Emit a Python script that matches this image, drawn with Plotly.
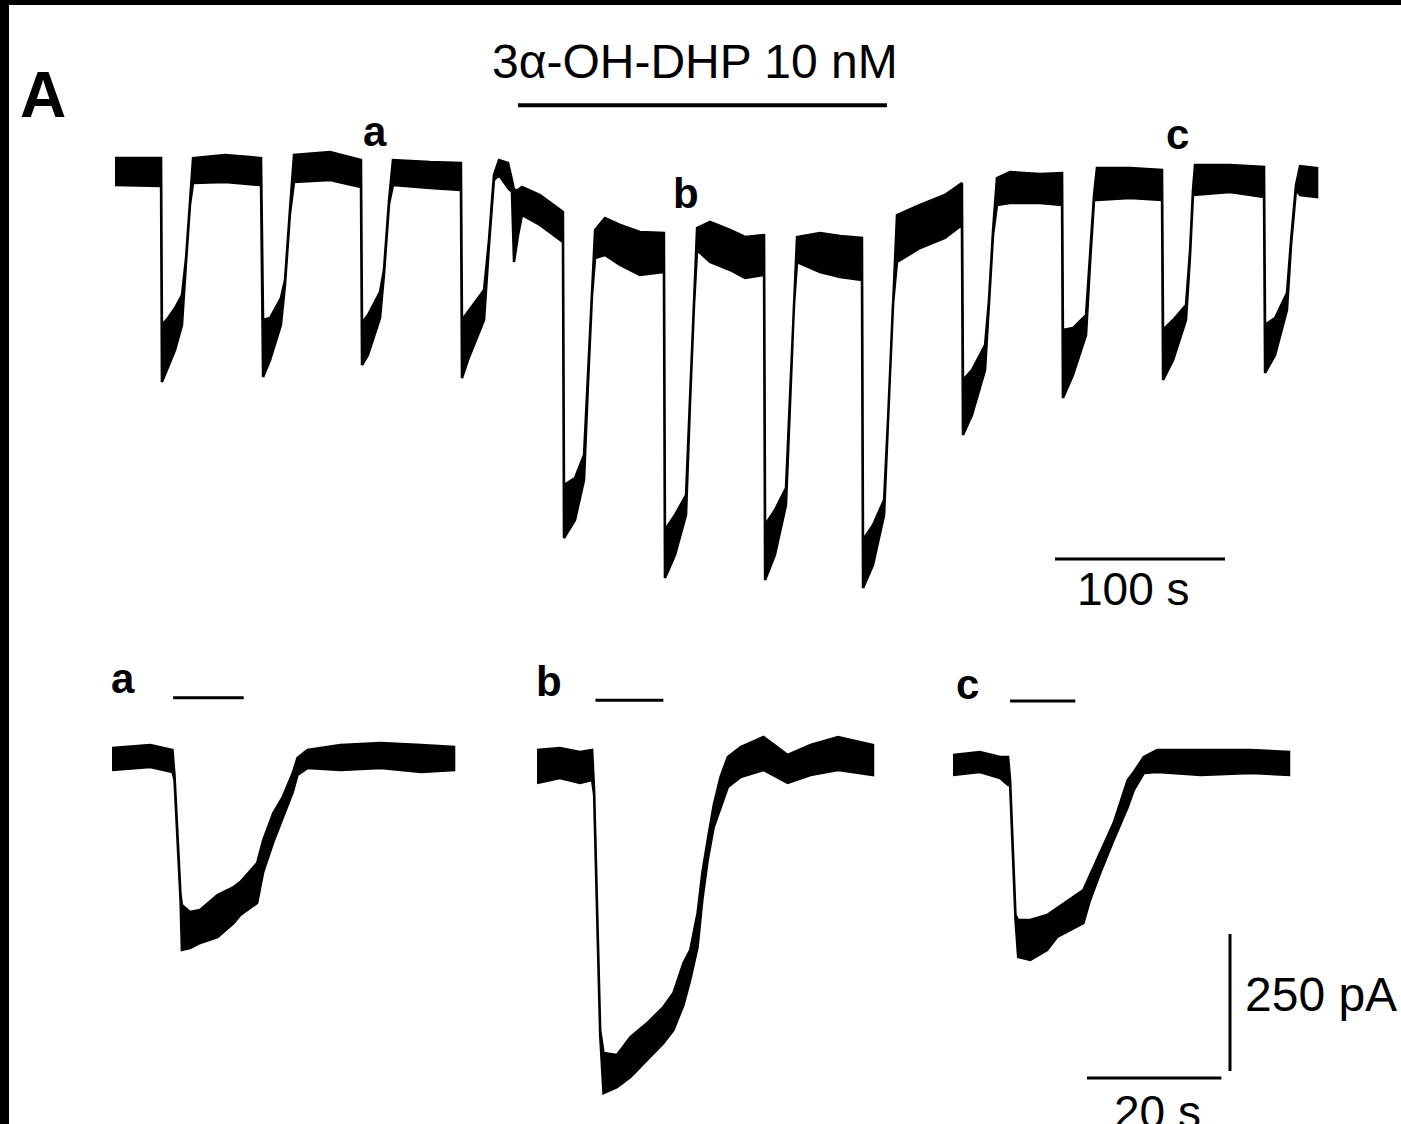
import plotly.graph_objects as go

# ------------------------------------------------------------------
# DATA (time in s, current in pA; upper / lower edge of the noisy trace)
# ------------------------------------------------------------------
# continuous recording, panel A top
TOP_T = [0, 27.1, 27.6, 31.2, 35.3, 39.4, 41.8, 44.1, 45.9, 64.7, 85.3,
         85.9, 87.1, 91.2, 97.6, 100.0, 102.9, 105.3, 126.5, 144.7,
         145.3, 148.8, 155.9, 158.2, 161.2, 163.5, 185.3, 203.5,
         204.1, 207.6, 217.1, 220.0, 222.9, 225.9, 231.2, 233.5, 234.7, 237.1, 239.4, 250.0, 263.5,
         264.1, 270.6, 275.9, 278.2, 280.6, 282.4, 288.2, 297.1, 308.8, 322.9,
         323.5, 329.4, 335.9, 338.2, 340.6, 342.4, 350.0, 361.8, 370.6, 381.8,
         382.4, 388.2, 394.7, 397.1, 399.4, 401.2, 414.7, 426.5, 439.4,
         440.0, 445.9, 452.4, 454.7, 457.6, 460.0, 473.5, 488.2, 498.2,
         498.8, 504.1, 511.8, 514.1, 516.5, 518.8, 526.5, 544.1, 557.1,
         557.6, 563.5, 571.2, 573.5, 575.9, 577.6, 597.1, 615.9,
         616.5, 622.4, 630.0, 632.4, 634.1, 635.3, 655.9, 675.9,
         676.5, 682.4, 689.4, 691.8, 694.7, 697.1, 707.1]
TOP_HI = [25.5, 25.5, -279.2, -266.4, -248.2, -224.5, -156.9, -51.1, 25.5, 31.0, 25.5,
          25.5, -270.1, -266.4, -229.9, -197.1, -69.3, 31.0, 36.5, 21.9,
          -275.0, -261.0, -219.0, -178.8, -51.1, 21.9, 18.2, 16.4,
          -270.1, -255.5, -215.3, -124.1, -5.5, 21.9, 16.4, -14.6, -32.8, -32.8, -27.4, -42.0, -73.0,
          -571.2, -558.4, -516.4, -379.6, -215.3, -105.8, -83.9, -96.7, -109.5, -111.3,
          -653.3, -625.9, -589.4, -416.1, -233.6, -102.2, -91.2, -105.8, -118.6, -115.0,
          -644.2, -616.8, -576.6, -416.1, -233.6, -118.6, -111.3, -116.8, -120.4,
          -671.5, -644.2, -598.5, -452.6, -233.6, -78.5, -60.2, -42.0, -20.1,
          -379.6, -361.3, -315.7, -233.6, -105.8, -10.9, 0.0, -3.6, -1.8,
          -288.3, -284.7, -261.0, -160.6, -42.0, 7.3, 7.3, 3.6,
          -288.3, -270.1, -242.7, -142.3, -32.8, 12.8, 12.8, 9.1,
          -279.2, -266.4, -220.8, -124.1, -23.7, 10.9, 7.3]
TOP_LO = [-23.7, -25.5, -383.2, -357.7, -324.8, -279.2, -164.2, -60.2, -20.1, -18.2, -23.7,
          -23.7, -374.1, -343.1, -279.2, -206.2, -76.6, -18.2, -14.6, -27.4,
          -352.2, -333.9, -266.4, -188.0, -58.4, -23.7, -29.2, -32.8,
          -375.9, -343.1, -270.1, -133.2, -14.6, -5.5, -29.2, -36.5, -164.2, -115.0, -78.5, -96.7, -127.7,
          -667.9, -635.0, -562.0, -388.7, -224.5, -156.9, -151.5, -169.7, -188.0, -182.5,
          -740.9, -698.9, -625.9, -425.2, -242.7, -142.3, -164.2, -178.8, -193.4, -188.0,
          -744.5, -698.9, -607.7, -425.2, -242.7, -164.2, -182.5, -191.6, -197.1,
          -759.1, -717.1, -625.9, -461.7, -242.7, -164.2, -138.7, -120.4, -96.7,
          -479.9, -443.4, -361.3, -242.7, -114.9, -60.2, -56.6, -56.6, -60.2,
          -412.4, -370.4, -297.4, -169.7, -51.1, -51.1, -47.4, -51.1,
          -379.6, -343.1, -270.1, -151.5, -42.0, -42.0, -36.5, -45.6,
          -366.8, -333.9, -251.8, -133.2, -32.8, -42.0, -45.6]

# expanded responses a, b, c
A_T = [0, 5.7, 9.0, 9.3, 10.2, 10.4, 11.6, 13.1, 15.7, 18.1, 19.1, 21.6, 22.5,
       24.0, 25.4, 26.9, 27.6, 29.1, 34.0, 40.0, 46.0, 50.9]
A_HI = [18.2, 23.7, 14.6, -31.0, -250.0, -268.3, -281.1, -277.4, -250.0, -235.4, -226.3,
        -191.6, -149.7, -100.4, -71.2, -27.4, 0.0, 14.6, 23.7, 27.4, 23.7, 20.1]
A_LO = [-21.9, -16.4, -25.5, -40.1, -259.2, -350.4, -346.8, -337.6, -326.7, -301.1, -286.5,
        -264.6, -208.1, -153.3, -109.5, -62.1, -31.0, -18.2, -21.9, -18.2, -25.5, -21.9]

B_T = [0, 3.4, 6.4, 8.2, 8.5, 9.4, 9.9, 11.9, 13.9, 16.4, 18.8, 20.3, 21.8, 22.8,
       23.9, 24.6, 25.4, 26.3, 27.3, 28.4, 30.3, 33.7, 37.3, 40.7, 44.8, 50.0]
B_HI = [27.4, 31.0, 23.7, 27.4, -45.6, -483.6, -525.6, -529.3, -496.4, -470.9, -441.7,
        -416.1, -361.4, -337.6, -270.1, -197.1, -136.9, -73.0, -21.9, 14.6, 32.9, 51.1,
        18.3, 36.5, 51.1, 36.5]
B_LO = [-32.8, -23.7, -32.8, -27.4, -54.8, -492.8, -598.6, -587.7, -569.4, -538.4, -507.4,
        -483.6, -438.0, -392.4, -332.2, -246.4, -173.4, -113.2, -76.7, -40.2, -21.9, -9.1,
        -32.8, -18.3, -9.1, -18.3]

C_T = [0, 4.0, 7.0, 8.2, 8.5, 9.3, 9.7, 11.5, 14.0, 15.5, 19.4, 20.4, 21.9, 23.9,
       26.0, 26.9, 28.4, 30.4, 36.9, 44.3, 50.0]
C_HI = [16.4, 21.9, 12.8, 12.8, -29.2, -275.6, -284.7, -284.7, -275.6, -262.8, -230.0,
        -202.6, -160.6, -107.7, -29.2, -14.6, 12.8, 25.5, 25.5, 25.5, 21.9]
C_LO = [-20.1, -14.6, -25.5, -38.3, -38.3, -284.7, -352.2, -357.7, -339.5, -315.7, -290.2,
        -248.2, -198.9, -138.7, -78.5, -47.5, -16.4, -14.6, -20.1, -16.4, -20.1]

# application periods (s)
DRUG_TOP = [237.1, 454.1]          # 3a-OH-DHP 10 nM
AGONIST_A = [9.1, 19.6]
AGONIST_B = [8.7, 18.8]
AGONIST_C = [8.5, 18.2]

# calibration bars
SCALE_TOP_S = 100
SCALE_BOT_S = 20
SCALE_BOT_PA = 250

# ------------------------------------------------------------------
# LAYOUT (pixel geometry of the page)
# ------------------------------------------------------------------
W, H = 1401, 1124
PX_PER_PA = 0.548
TOP_PX_PER_S = 1.70
BOT_PX_PER_S = 6.72
TOP_ORIGIN = (115, 172)
A_ORIGIN = (112, 758)
B_ORIGIN = (537, 765)
C_ORIGIN = (953, 764)
FONT = "Liberation Sans, Arial, Helvetica, sans-serif"


def axis_ranges(origin, px_per_s):
    ox, oy = origin
    return ([-ox / px_per_s, (W - ox) / px_per_s],
            [(oy - H) / PX_PER_PA, oy / PX_PER_PA])


def band(t, hi, lo, xa, ya):
    return go.Scatter(x=t + t[::-1], y=hi + lo[::-1], fill="toself",
                      fillcolor="black", mode="lines",
                      line=dict(color="black", width=2.5),
                      xaxis=xa, yaxis=ya, hoverinfo="skip", showlegend=False)


def bar(xs, ys, xa, ya, w=3.5):
    return go.Scatter(x=xs, y=ys, mode="lines", line=dict(color="black", width=w),
                      xaxis=xa, yaxis=ya, hoverinfo="skip", showlegend=False)


fig = go.Figure()
fig.add_trace(band(TOP_T, TOP_HI, TOP_LO, "x", "y"))
fig.add_trace(band(A_T, A_HI, A_LO, "x2", "y2"))
fig.add_trace(band(B_T, B_HI, B_LO, "x3", "y3"))
fig.add_trace(band(C_T, C_HI, C_LO, "x4", "y4"))

# drug bar (top) placed 122 pA above initial baseline
fig.add_trace(bar(DRUG_TOP, [122, 122], "x", "y", 4))
# agonist bars above each expanded trace
fig.add_trace(bar(AGONIST_A, [110, 110], "x2", "y2", 3))
fig.add_trace(bar(AGONIST_B, [118, 118], "x3", "y3", 3))
fig.add_trace(bar(AGONIST_C, [115, 115], "x4", "y4", 3))

# 100 s bar (top trace axes)
t0 = (1055 - TOP_ORIGIN[0]) / TOP_PX_PER_S
ylev = (TOP_ORIGIN[1] - 559) / PX_PER_PA
fig.add_trace(bar([t0, t0 + SCALE_TOP_S], [ylev, ylev], "x", "y", 3))

# 20 s / 250 pA bars (trace c axes)
tv = (1230 - C_ORIGIN[0]) / BOT_PX_PER_S
yv = (C_ORIGIN[1] - 934) / PX_PER_PA
fig.add_trace(bar([tv, tv], [yv, yv - SCALE_BOT_PA], "x4", "y4", 3))
th = (1087 - C_ORIGIN[0]) / BOT_PX_PER_S
yh = (C_ORIGIN[1] - 1078) / PX_PER_PA
fig.add_trace(bar([th, th + SCALE_BOT_S], [yh, yh], "x4", "y4", 3))

ax_common = dict(visible=False, showgrid=False, zeroline=False, fixedrange=True)
layout_axes = {}
for i, (orig, pxs) in enumerate([(TOP_ORIGIN, TOP_PX_PER_S), (A_ORIGIN, BOT_PX_PER_S),
                                  (B_ORIGIN, BOT_PX_PER_S), (C_ORIGIN, BOT_PX_PER_S)]):
    xr, yr = axis_ranges(orig, pxs)
    sx = "" if i == 0 else str(i + 1)
    xa = dict(ax_common, range=xr, domain=[0, 1], anchor="y" + sx)
    ya = dict(ax_common, range=yr, domain=[0, 1], anchor="x" + sx)
    if i > 0:
        xa["overlaying"] = "x"
        ya["overlaying"] = "y"
    layout_axes["xaxis" + sx] = xa
    layout_axes["yaxis" + sx] = ya


def ann(text, x, y, size, bold=False, xanchor="center", yanchor="middle"):
    return dict(text=("<b>%s</b>" % text) if bold else text, x=x / W, y=1 - y / H,
                xref="paper", yref="paper", showarrow=False, xanchor=xanchor,
                yanchor=yanchor, font=dict(family=FONT, size=size, color="black"))


annotations = [
    ann("A", 43, 95, 64, bold=True),
    ann("3α-OH-DHP 10 nM", 695, 62, 48),
    ann("a", 375, 131, 42, bold=True),
    ann("b", 686, 194, 42, bold=True),
    ann("c", 1177, 134, 42, bold=True),
    ann("100 s", 1133, 589, 46),
    ann("a", 123, 678, 42, bold=True),
    ann("b", 549, 681, 42, bold=True),
    ann("c", 967, 684, 42, bold=True),
    ann("250 pA", 1243, 994, 48, xanchor="left"),
    ann("20 s", 1157, 1112, 46),
]

shapes = [
    dict(type="rect", xref="paper", yref="paper", x0=0, x1=1, y0=1 - 5 / H, y1=1,
         fillcolor="black", line=dict(width=0)),
    dict(type="rect", xref="paper", yref="paper", x0=0, x1=9 / W, y0=0, y1=1,
         fillcolor="black", line=dict(width=0)),
]

fig.update_layout(width=W, height=H, margin=dict(l=0, r=0, t=0, b=0, pad=0),
                  paper_bgcolor="white", plot_bgcolor="white", showlegend=False,
                  annotations=annotations, shapes=shapes, **layout_axes)

fig.write_html("out.html", config={"displayModeBar": False},
               post_script="document.body.style.margin='0px';"
                           "document.body.style.overflow='hidden';")
